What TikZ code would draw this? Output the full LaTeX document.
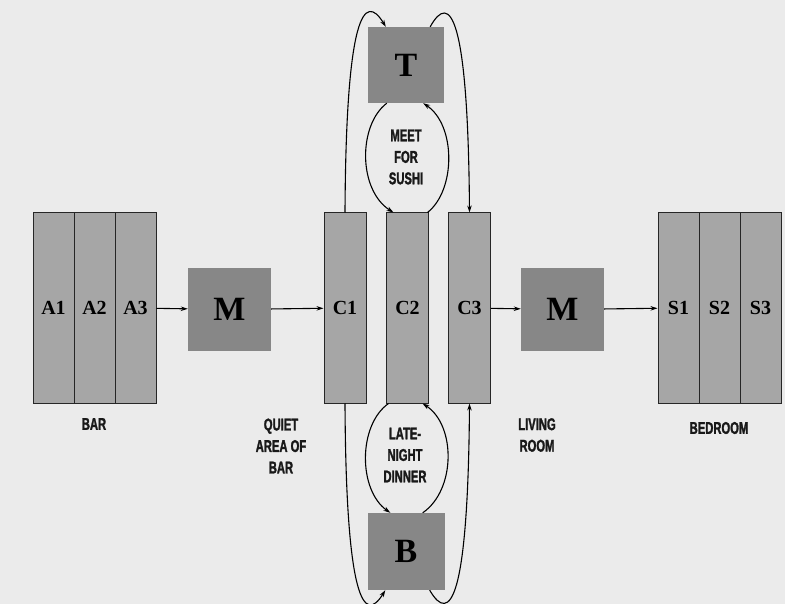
\documentclass[tikz,border=0pt]{standalone}
\usepackage{fontspec}
\usetikzlibrary{arrows.meta}
\setmainfont{Liberation Serif}
\newfontfamily\capfont[FakeStretch=0.66,FakeBold=1.6]{Liberation Sans Bold}

\begin{document}
\begin{tikzpicture}[x=1pt,y=-1pt,>={Stealth[length=7pt,width=4.5pt]},
    room/.style={draw=black!85,fill=black!35,line width=1pt,inner sep=0pt,
      minimum width=41pt,minimum height=190pt,font=\bfseries\fontsize{20}{20}\selectfont},
    mover/.style={fill=black!47,inner sep=0pt,minimum size=83pt,
      font=\bfseries\fontsize{34}{34}\selectfont},
    caption/.style={align=center,text=black!90,
      font=\capfont\fontsize{17}{21.5}\selectfont},
    link/.style={->,line width=1.1pt}]
    \useasboundingbox (0,0) rectangle (785,604);
    \fill[black!8] (0,0) rectangle (785,604);
    \node[room] (A1) at (53.5,308){A1};
    \node[room] (A2) at (94.5,308){A2};
    \node[room] (A3) at (135.5,308){A3};
    \node[mover] (M1) at (229.5,309.5){M};
    \node[room,minimum width=42pt] (C1) at (345,308){C1};
    \node[room,minimum width=42pt] (C2) at (407.5,308){C2};
    \node[room,minimum width=42pt] (C3) at (469.5,308){C3};
    \node[mover,minimum size=76pt] (T) at (406,65){T};
    \node[mover,minimum size=77pt] (B) at (406,551.5){B};
    \node[mover] (M2) at (562.5,309.5){M};
    \node[room] (S1) at (678.5,308){S1};
    \node[room] (S2) at (719.5,308){S2};
    \node[room] (S3) at (760.5,308){S3};
    \draw[link](A3)--(M1);
    \draw[link](M1)--(C1);
    \draw[link](C3)--(M2);
    \draw[link](M2)--(S1);
    \draw[link](C1.north)..controls(346,16)and(364,-9)..([xshift=18pt]T.north west);
    \draw[link]([xshift=-14pt]T.north east)..controls(450,-9)and(468,16)..(C3.north);
    \draw[link]([xshift=19pt]T.south west)..controls(358,125)and(358,190)..([xshift=-14pt]C2.north);
    \draw[link]([xshift=20pt]C2.north)..controls(456,190)and(456,125)..([xshift=-21pt]T.south east);
    \draw[link]([xshift=-19pt]C2.south)..controls(358,425)and(358,490)..([xshift=23pt]B.north west);
    \draw[link]([xshift=-22pt]B.north east)..controls(456,490)and(456,425)..([xshift=15pt]C2.south);
    \draw[link](C1.south)..controls(346,600)and(364,625)..([xshift=18pt]B.south west);
    \draw[link]([xshift=-15pt]B.south east)..controls(450,625)and(468,600)..(C3.south);
    \node[caption] (lsushi) at (406,157){MEET\\FOR\\SUSHI};
    \node[caption] (ldinner) at (405,455){LATE-\\NIGHT\\DINNER};
    \node[caption] (lbar) at (94,424){BAR};
    \node[caption] (lquiet) at (281,446){QUIET\\AREA OF\\BAR};
    \node[caption] (lliving) at (537,435){LIVING\\ROOM};
    \node[caption] (lbed) at (719,428){BEDROOM};
\end{tikzpicture}
\end{document}
